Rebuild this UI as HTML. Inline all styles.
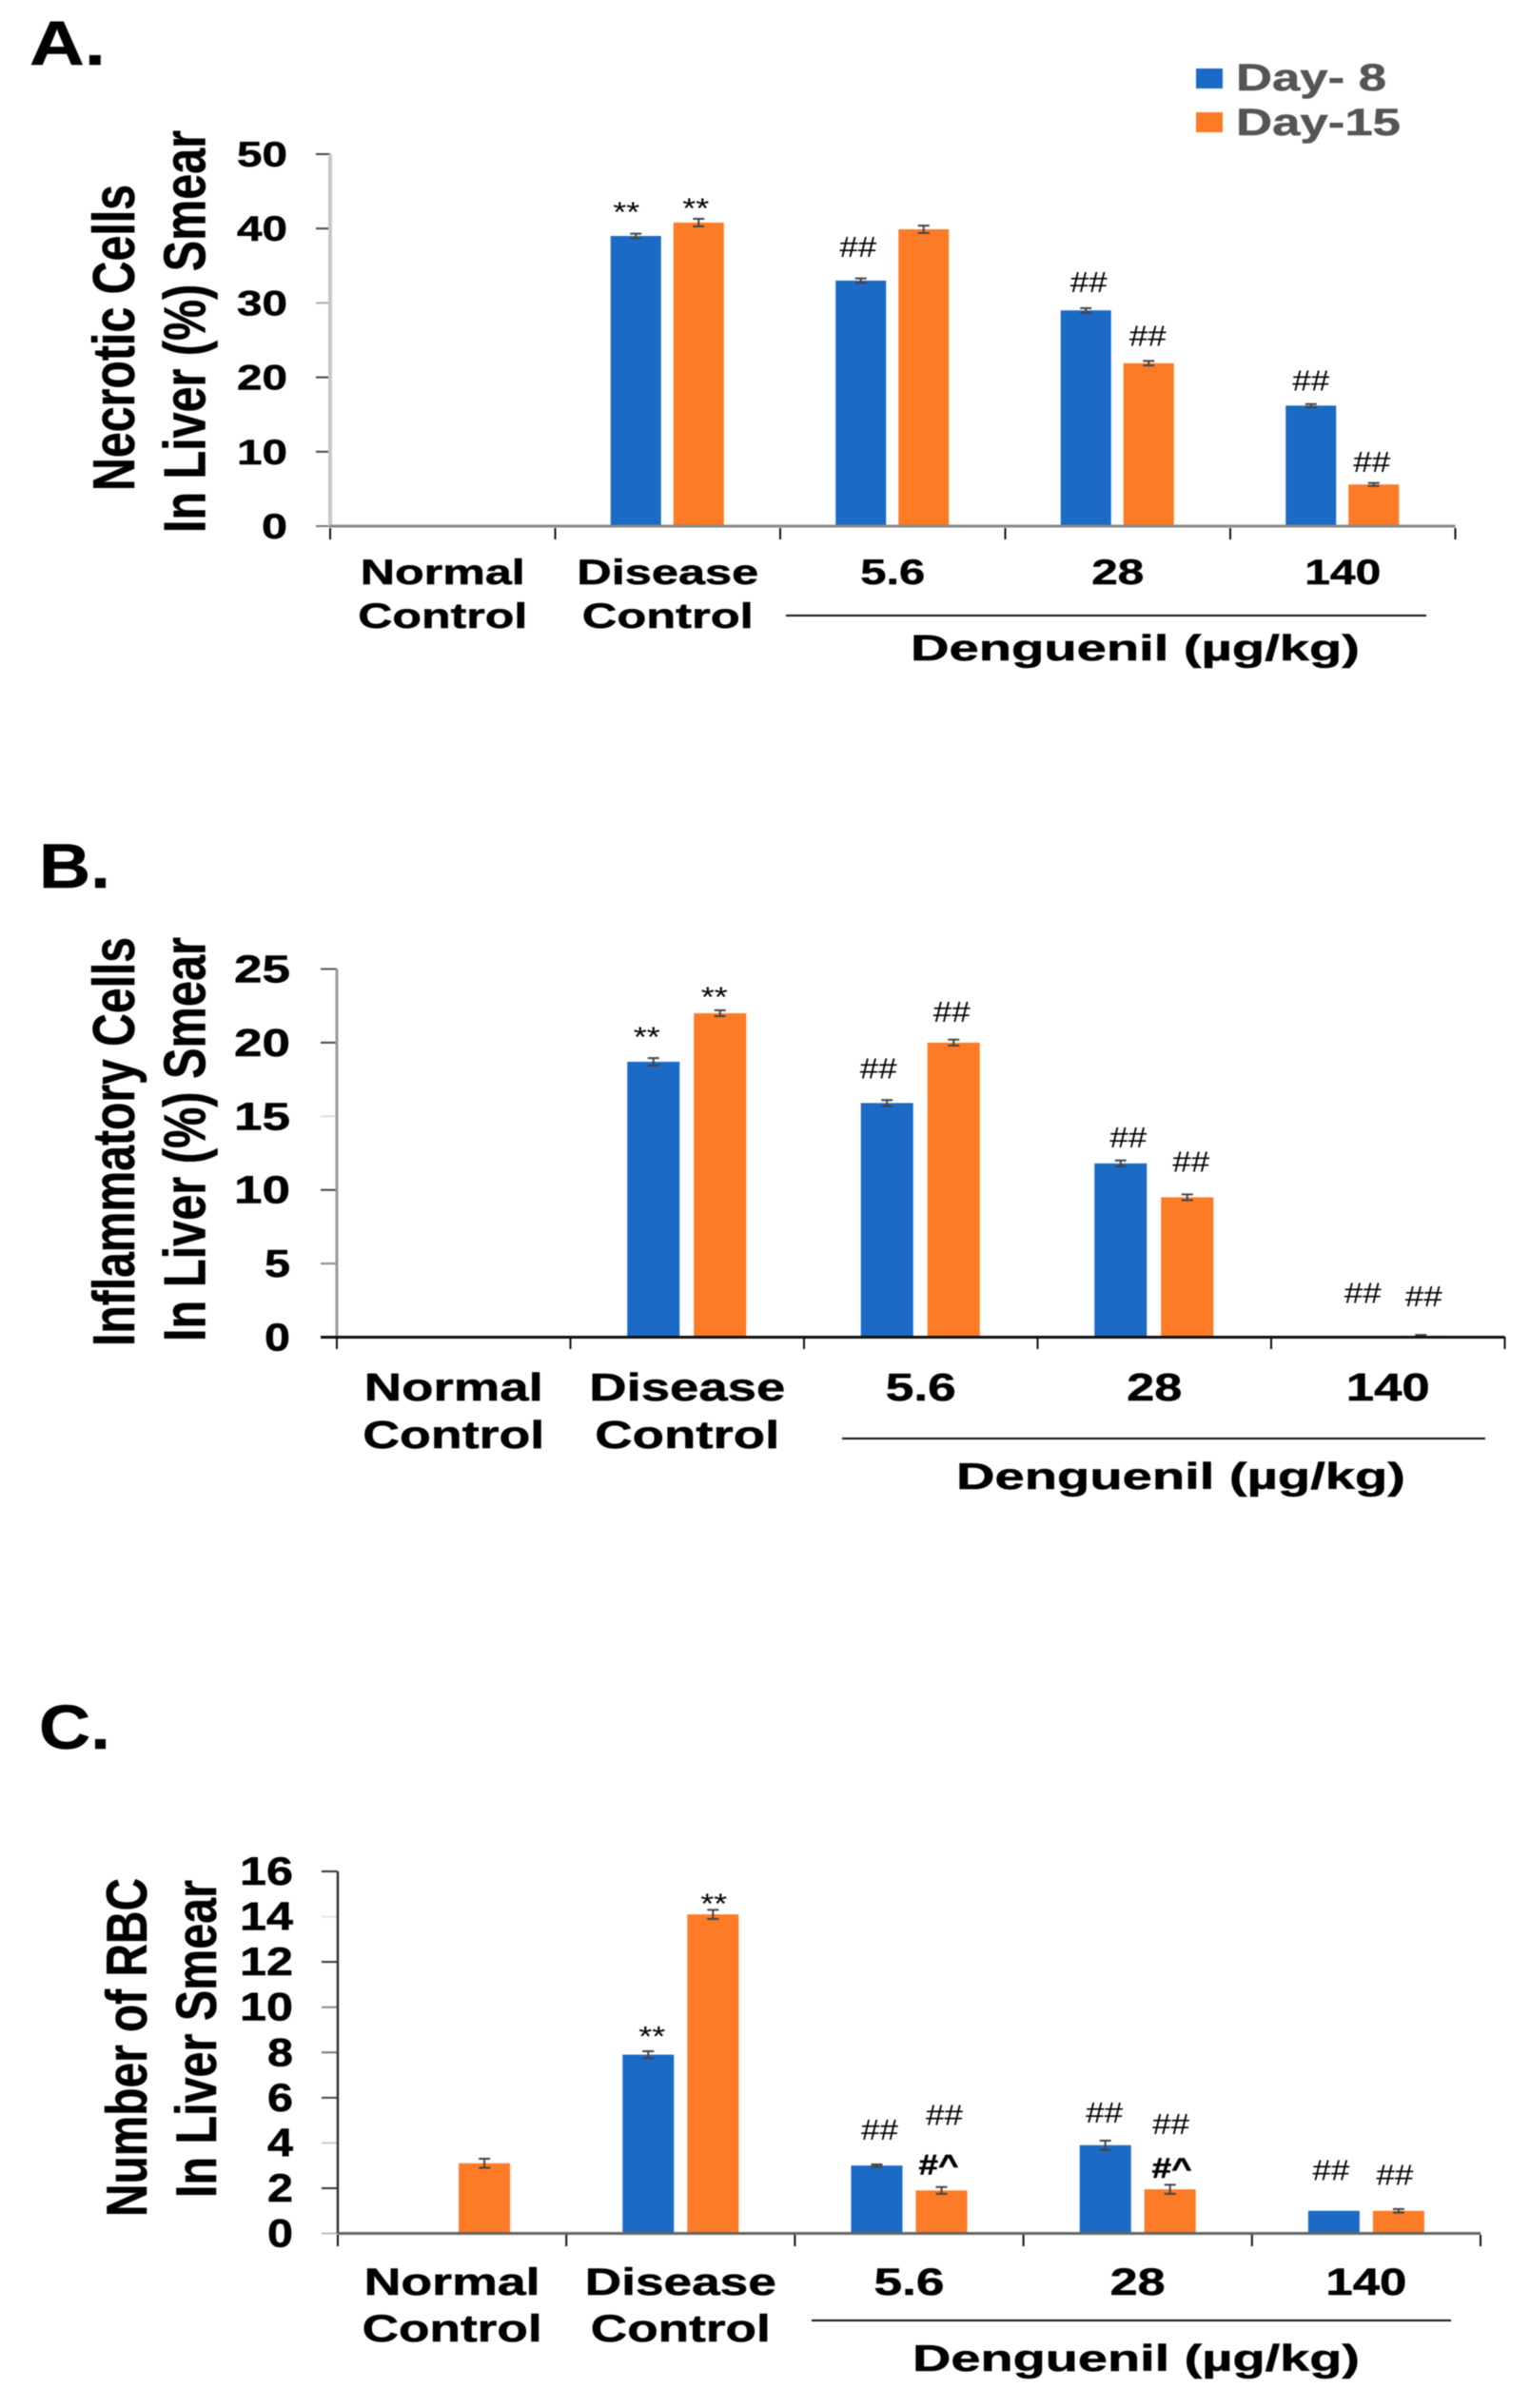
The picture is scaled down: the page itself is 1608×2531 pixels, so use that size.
<!DOCTYPE html>
<html lang="en">
<head>
<meta charset="utf-8">
<title>Liver smear bar charts</title>
<style>
html,body{margin:0;padding:0;background:#fff;}
svg{display:block;filter:blur(0.6px);}
text{font-family:"Liberation Sans",sans-serif;}
text[font-weight="700"]{stroke:#000;stroke-width:.5px;}
</style>
</head>
<body>
<svg id="fig" width="1608" height="2531" viewBox="0 0 1608 2531" xmlns="http://www.w3.org/2000/svg">
<rect width="1608" height="2531" fill="#fff"/>
<text x="31" y="68" font-size="66" font-weight="700" textLength="80" lengthAdjust="spacingAndGlyphs" fill="#000">A.</text>
<text x="41" y="933" font-size="66" font-weight="700" textLength="75" lengthAdjust="spacingAndGlyphs" fill="#000">B.</text>
<text x="41" y="1838" font-size="66" font-weight="700" textLength="75" lengthAdjust="spacingAndGlyphs" fill="#000">C.</text>
<rect x="1257" y="72" width="28" height="21" fill="#1b6ac5"/>
<text x="1299" y="95" font-size="40" font-weight="700" textLength="158" lengthAdjust="spacingAndGlyphs" fill="#555" style="stroke:#555">Day- 8</text>
<rect x="1257" y="118" width="28" height="21" fill="#fd7a26"/>
<text x="1299" y="142" font-size="40" font-weight="700" textLength="173" lengthAdjust="spacingAndGlyphs" fill="#555" style="stroke:#555">Day-15</text>
</svg>
<script>
const categories = [['Normal','Control'],['Disease','Control'],['5.6'],['28'],['140']];
const doseAxisTitle = 'Denguenil (µg/kg)';

const necroticTicks = ['0','10','20','30','40','50'];
const necroticDay8 = [0,39,33,29,16.2];
const necroticDay15 = [0,40.8,39.9,21.9,5.6];
const necroticErr8 = [0,0.3,0.3,0.3,0.2];
const necroticErr15 = [0,0.5,0.5,0.3,0.2];
const necroticMarks8 = ['','**','##','##','##'];
const necroticMarks15 = ['','**','','##','##'];

const inflamTicks = ['0','5','10','15','20','25'];
const inflamDay8 = [0,18.7,15.9,11.8,0];
const inflamDay15 = [0,22,20,9.5,0.1];
const inflamErr8 = [0,0.25,0.2,0.2,0];
const inflamErr15 = [0,0.2,0.2,0.2,0.05];
const inflamMarks8 = ['','**','##','##','##'];
const inflamMarks15 = ['','**','##','##','##'];

const rbcTicks = ['0','2','4','6','8','10','12','14','16'];
const rbcDay8 = [0,7.9,3,3.9,1];
const rbcDay15 = [3.1,14.1,1.9,1.95,1];
const rbcErr8 = [0,0.15,0.05,0.2,0];
const rbcErr15 = [0.2,0.2,0.15,0.2,0.08];
const rbcMarks8 = ['','**','##','##','##'];
const rbcMarks15 = ['','**','##','##','##'];
const rbcExtraMarks15 = ['','','#^','#^',''];

const panels = [
 {id:'necrotic', ticks:necroticTicks, d8:necroticDay8, d15:necroticDay15, e8:necroticErr8, e15:necroticErr15, m8:necroticMarks8, m15:necroticMarks15, extra:null,
  layout:{x0:347, step:236.5, yZero:553, yTop:162, barW:53, off8:-60, off15:6, tickX:332, labelEnd:302, w1:27, w2:53, tickSize:37, labelDrop:13, xAxisColor:'#888', xAxisW:3, yAxisColor:'#c8c8c8', yAxisW:4, tickShades:['#777','#444','#444','#aaa','#444','#444'], xAxisStart:347, xTickTop:555, xTickBot:567,
   catSize:37, catY:[614,660], catW:{Normal:173,Disease:191,Control:[178,180],'5.6':68,'28':55,'140':80},
   rule:[826,1499,647], doseX:957, doseW:472, doseY:694, doseSize:38,
   titles:[{t:'Necrotic Cells',x:141,bottom:516,len:322,size:62},{t:'In Liver (%) Smear',x:215.5,bottom:560,len:423,size:62}],
   lift8:[0,28,25,19,16], shift8:[0,-10,-3,3,0], lift15:[0,18,0,18,13], shift15:[0,-3,0,-1,-2]}},
 {id:'inflammatory', ticks:inflamTicks, d8:inflamDay8, d15:inflamDay15, e8:inflamErr8, e15:inflamErr15, m8:inflamMarks8, m15:inflamMarks15, extra:null,
  layout:{x0:354, step:245.5, yZero:1405.5, yTop:1018.5, barW:55, off8:-63, off15:7, tickX:337, labelEnd:305, w1:27, w2:59, tickSize:41, labelDrop:14, xAxisColor:'#111', xAxisW:3, yAxisColor:'#999', yAxisW:3, tickShades:['#111','#888','#444','#ddd','#444','#555'], xAxisStart:337, xTickTop:1405, xTickBot:1418,
   catSize:41, catY:[1472,1522], catW:{Normal:188,Disease:206,Control:[191,194],'5.6':74,'28':58,'140':88},
   rule:[885,1561,1512], doseX:1005, doseW:472, doseY:1565, doseSize:39,
   titles:[{t:'Inflammatory Cells',x:141,bottom:1415,len:430,size:62},{t:'In Liver (%) Smear',x:215.5,bottom:1410,len:425,size:62}],
   lift8:[0,29,26,17,36], shift8:[0,-7,-9,8,9], lift15:[0,20,22,27,31], shift15:[0,-6,-2,4,3]}},
 {id:'rbc', ticks:rbcTicks, d8:rbcDay8, d15:rbcDay15, e8:rbcErr8, e15:rbcErr15, m8:rbcMarks8, m15:rbcMarks15, extra:rbcExtraMarks15,
  layout:{x0:355, step:240.2, yZero:2347.5, yTop:1967, barW:54, off8:-61, off15:7, tickX:338, labelEnd:308, w1:27, w2:56, tickSize:42, labelDrop:14, xAxisColor:'#666', xAxisW:3, yAxisColor:'#333', yAxisW:2.5, tickShades:['#bbb','#333','#ccc','#444','#777','#888','#333','#e4e4e4','#333'], xAxisStart:355, xTickTop:2349, xTickBot:2361,
   catSize:40, catY:[2412,2461], catW:{Normal:185,Disease:201,Control:[189,189],'5.6':74,'28':58,'140':85},
   rule:[853,1525,2439], doseX:959, doseW:470, doseY:2492, doseSize:39,
   titles:[{t:'Number of RBC',x:154,bottom:2330,len:356,size:60},{t:'In Liver Smear',x:227,bottom:2310,len:334,size:60}],
   lift8:[0,22,27,24,32], shift8:[0,4,3,-1,-3], lift15:[0,14,69,58,27], shift15:[0,1,3,1,-4], liftExtra:[0,0,17,12,0], shiftExtra:[0,0,-3,2,0]}}
];

const SVGNS = 'http://www.w3.org/2000/svg';
const fig = document.getElementById('fig');

function shape(parent, tag, props) {
  const el = document.createElementNS(SVGNS, tag);
  for (const k in props) el.setAttribute(k, props[k]);
  parent.appendChild(el);
  return el;
}
function label(parent, str, x, y, size, len, weight, anchor, fill) {
  const el = shape(parent, 'text', {x:x, y:y, 'font-size':size, 'font-weight':weight, 'text-anchor':anchor, fill:fill});
  el.setAttribute('textLength', len);
  el.setAttribute('lengthAdjust', 'spacingAndGlyphs');
  el.textContent = str;
  return el;
}
function drawMark(g, str, cx, bottom, name) {
  if (!str) return;
  let el;
  if (str.indexOf('*') >= 0) {
    el = label(g, str, cx, bottom + 13, 30, 28, 400, 'middle', '#000');
  } else if (str.indexOf('^') >= 0) {
    el = label(g, str, cx, bottom, 30, 42, 700, 'middle', '#000');
  } else {
    el = label(g, str, cx, bottom, 31, 39, 400, 'middle', '#000');
  }
  
  
}
function drawBar(g, v, err, cx, w, color, yScale, yZero, name) {
  const top = yScale(v);
  const bar = shape(g, 'rect', {x:cx - w/2, y:top, width:w, height:Math.max(0, yZero - top), fill:color});
  
  
  if (err > 0) {
    const hi = yScale(v + err), lo = yScale(v - err);
    const e = shape(g, 'path', {d:'M'+(cx-6)+' '+hi+'H'+(cx+6)+'M'+cx+' '+hi+'V'+lo+'M'+(cx-6)+' '+lo+'H'+(cx+6), stroke:'#444', 'stroke-width':2, fill:'none'});
    
    
  }
}

panels.forEach(function (p) {
  const L = p.layout;
  const g = shape(fig, 'g', {});
  
  
  const yMax = Number(p.ticks[p.ticks.length - 1]);
  const yScale = function (v) { return L.yZero - (v / yMax) * (L.yZero - L.yTop); };
  const catCenter = function (i) { return L.x0 + (i + 0.5) * L.step; };

  // bars and annotations
  categories.forEach(function (c, i) {
    const cx8 = catCenter(i) + L.off8 + L.barW / 2;
    const cx15 = catCenter(i) + L.off15 + L.barW / 2;
    drawBar(g, p.d8[i], p.e8[i], cx8, L.barW, '#1b6ac5', yScale, L.yZero, p.id + '-bar-day8-' + i);
    drawBar(g, p.d15[i], p.e15[i], cx15, L.barW, '#fd7a26', yScale, L.yZero, p.id + '-bar-day15-' + i);
    drawMark(g, p.m8[i], cx8 + L.shift8[i], yScale(p.d8[i]) - L.lift8[i], p.id + '-significance-day8-' + i);
    drawMark(g, p.m15[i], cx15 + L.shift15[i], yScale(p.d15[i]) - L.lift15[i], p.id + '-significance-day15-' + i);
    if (p.extra) drawMark(g, p.extra[i], cx15 + L.shiftExtra[i], yScale(p.d15[i]) - L.liftExtra[i], p.id + '-significance-extra-' + i);
  });

  // y axis
  p.ticks.forEach(function (t, i) {
    const y = yScale(Number(t));
    const tick = shape(g, 'line', {x1:L.tickX, x2:L.x0, y1:y, y2:y, stroke:L.tickShades[i], 'stroke-width':2});
    
    
    const tl = label(g, t, L.labelEnd, y + L.labelDrop, L.tickSize, t.length > 1 ? L.w2 : L.w1, 700, 'end', '#000');
    
    
  });
  const yAxis = shape(g, 'line', {x1:L.x0, x2:L.x0, y1:L.yTop, y2:L.yZero, stroke:L.yAxisColor, 'stroke-width':L.yAxisW});
  
  

  // x axis
  const xEnd = L.x0 + L.step * categories.length;
  const xAxis = shape(g, 'line', {x1:L.xAxisStart, x2:xEnd, y1:L.yZero, y2:L.yZero, stroke:L.xAxisColor, 'stroke-width':L.xAxisW});
  
  
  for (let i = 0; i <= categories.length; i++) {
    const xt = L.x0 + i * L.step;
    const tk = shape(g, 'line', {x1:xt, x2:xt, y1:L.xTickTop, y2:L.xTickBot, stroke:'#111', 'stroke-width':2});
    
    
  }

  // category labels
  categories.forEach(function (c, i) {
    c.forEach(function (line, j) {
      const w = line === 'Control' ? L.catW.Control[i] : L.catW[line];
      const cl = label(g, line, catCenter(i), L.catY[j], L.catSize, w, 700, 'middle', '#000');
      
      
    });
  });

  // dose bracket and title
  const rule = shape(g, 'line', {x1:L.rule[0], x2:L.rule[1], y1:L.rule[2], y2:L.rule[2], stroke:'#111', 'stroke-width':2});
  
  
  const dose = label(g, doseAxisTitle, L.doseX, L.doseY, L.doseSize, L.doseW, 700, 'start', '#000');
  
  

  // y titles
  L.titles.forEach(function (t) {
    const ty = label(g, t.t, 0, 0, t.size, t.len, 700, 'start', '#000');
    ty.setAttribute('transform', 'translate(' + t.x + ' ' + t.bottom + ') rotate(-90)');
    
    
  });
});
</script>
</body>
</html>
